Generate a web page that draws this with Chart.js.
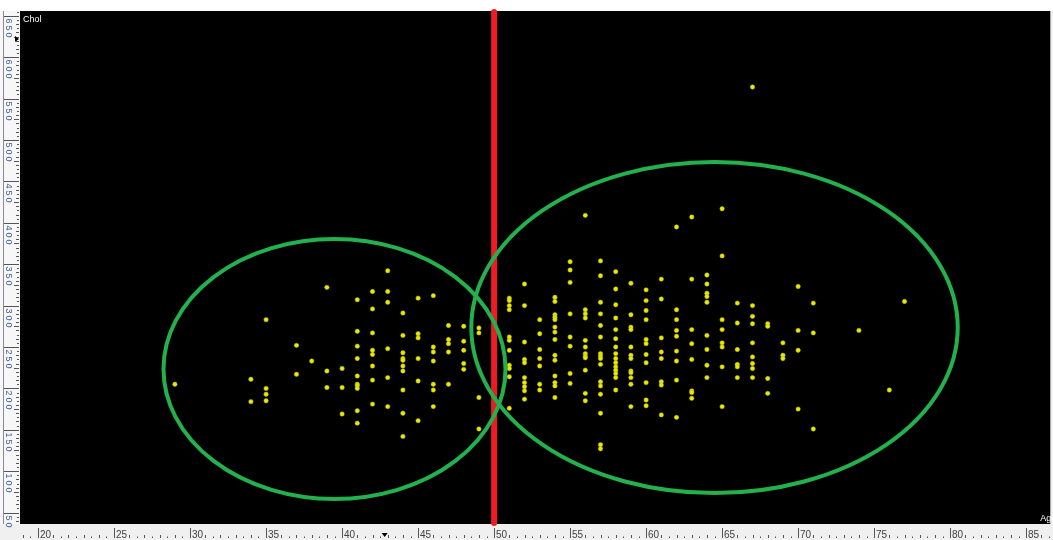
<!DOCTYPE html>
<html>
<head>
<meta charset="utf-8">
<script src="https://cdn.jsdelivr.net/npm/chart.js@4.4.0/dist/chart.umd.min.js"></script>
<style>
html, body { margin: 0; padding: 0; background: #ffffff; overflow: hidden; }
canvas { display: block; }
</style>
</head>
<body>
<canvas id="myChart" width="1053" height="540"></canvas>
<script>
// ages (one column of dots per age) and the cholesterol values in that column
const ageGroups = [29, 34, 35, 37, 38, 39, 40, 41, 42, 43, 44, 45, 46, 47, 48, 49,
    51, 52, 53, 54, 55, 56, 57, 58, 59, 60, 61, 62, 63, 64, 65, 66, 67, 68, 69, 70, 71, 74, 76, 77];

const cholByAge = [
    [205],
    [211, 184],
    [283, 200, 193, 185],
    [252, 217],
    [233],
    [322, 221, 201],
    [224, 201, 169],
    [307, 269, 251, 236, 215, 205, 203, 200, 173, 158],
    [317, 296, 267, 246, 241, 227, 210, 181],
    [342, 317, 304, 248, 213, 178],
    [291, 264, 243, 236, 234, 227, 221, 198, 170, 142],
    [309, 266, 261, 236, 209, 161],
    [312, 250, 244, 233, 205, 198, 178],
    [276, 259, 254, 244, 205],
    [275, 257, 246, 230, 223],
    [273, 267, 189, 151],
    [309, 306, 300, 295, 262, 258, 246, 228, 224, 214, 176],
    [326, 300, 256, 235, 231, 213, 207, 202, 197, 187],
    [283, 266, 247, 236, 227, 205, 198],
    [310, 305, 289, 286, 283, 274, 268, 259, 240, 234, 215, 207, 203, 189],
    [353, 343, 328, 290, 262, 251, 218, 206],
    [409, 295, 290, 285, 258, 250, 242, 239, 237, 222, 194, 185],
    [354, 336, 304, 290, 276, 262, 242, 239, 236, 229, 208, 203, 193, 170, 132, 127],
    [341, 320, 301, 285, 271, 260, 250, 242, 236, 231, 226, 222, 218, 213, 198],
    [327, 289, 274, 271, 250, 240, 236, 221, 219, 213, 205, 178],
    [319, 306, 294, 283, 259, 254, 241, 231, 207, 186, 179],
    [332, 308, 261, 244, 236, 208, 204, 168],
    [395, 295, 283, 270, 263, 245, 233, 210, 165],
    [407, 332, 271, 254, 235, 197, 195, 188],
    [337, 326, 315, 311, 304, 264, 247, 228, 213],
    [417, 360, 283, 271, 255, 250, 226, 178],
    [303, 279, 247, 229, 226, 213],
    [564, 300, 287, 278, 255, 238, 230, 224, 213],
    [278, 275, 212, 194],
    [255, 240, 236],
    [323, 270, 246, 175],
    [303, 267, 151],
    [270],
    [198],
    [305]
];

const xTickLabels = [20, 25, 30, 35, 40, 45, 50, 55, 60, 65, 70, 75, 80, 85];
const yTickLabels = [50, 100, 150, 200, 250, 300, 350, 400, 450, 500, 550, 600, 650];

// marked split age and the two hand drawn groups (centre age, centre chol, radius age, radius chol)
const splitAge = 50;
const groupCenterAge = [39.5, 64.5];
const groupCenterChol = [223.4, 273.5];
const groupRadiusAge = [11.25, 16.0];
const groupRadiusChol = [157, 200];

const cursorAge = 42.8;
const cursorChol = 622;

let points = [];
ageGroups.forEach((age, i) => {
    cholByAge[i].forEach(c => points.push({ x: age, y: c }));
});

const backgroundPlugin = {
    id: "background",
    beforeDraw(chart) {
        const ctx = chart.ctx;
        const a = chart.chartArea;
        ctx.save();
        ctx.fillStyle = "#f0f0f0";
        ctx.fillRect(0, 0, chart.width, chart.height);
        ctx.fillStyle = "#ffffff";
        ctx.fillRect(0, 0, chart.width, a.top);
        ctx.fillStyle = "#f7f7f7";
        ctx.fillRect(0, a.top, a.left, a.bottom - a.top);
        ctx.fillStyle = "#000000";
        ctx.fillRect(a.left, a.top, a.right - a.left, a.bottom - a.top);
        ctx.restore();
    }
};

const rulerPlugin = {
    id: "rulers",
    beforeDatasetsDraw(chart) {
        const ctx = chart.ctx;
        const a = chart.chartArea;
        const xs = chart.scales.x;
        const ys = chart.scales.y;
        ctx.save();
        ctx.lineWidth = 1;
        ctx.strokeStyle = "#555555";

        // bottom ruler
        const base = chart.height - 2;
        for (let v = Math.ceil(xs.min * 2) / 2; v <= xs.max; v += 0.5) {
            if (v % 5 === 0) continue;
            const major = Math.floor(v / 5) * 5;
            if (xs.getPixelForValue(v) - xs.getPixelForValue(major) < 14) continue;
            const px = Math.round(xs.getPixelForValue(v)) + 0.5;
            const len = Number.isInteger(v) ? 3 : 1.5;
            ctx.beginPath();
            ctx.moveTo(px, base - len);
            ctx.lineTo(px, base);
            ctx.stroke();
        }
        ctx.font = '10px "Liberation Sans", Arial, sans-serif';
        ctx.fillStyle = "#404040";
        ctx.textBaseline = "alphabetic";
        xTickLabels.forEach(v => {
            const px = Math.round(xs.getPixelForValue(v)) + 0.5;
            ctx.beginPath();
            ctx.moveTo(px, a.bottom + 4);
            ctx.lineTo(px, base);
            ctx.stroke();
            ctx.fillText(String(v), px + 1.5, base);
        });

        // left ruler
        ctx.strokeStyle = "#8a8a9a";
        ctx.beginPath();
        ctx.moveTo(3.5, a.top);
        ctx.lineTo(3.5, a.bottom);
        ctx.stroke();
        ctx.strokeStyle = "#555555";
        const edge = a.left - 1;
        for (let v = Math.ceil(ys.min / 5) * 5; v <= ys.max; v += 5) {
            if (v % 50 === 0) continue;
            const py = Math.round(ys.getPixelForValue(v)) + 0.5;
            const len = v % 25 === 0 ? 5 : (v % 10 === 0 ? 3 : 2);
            ctx.beginPath();
            ctx.moveTo(edge - len, py);
            ctx.lineTo(edge, py);
            ctx.stroke();
        }
        ctx.font = '9px "Liberation Sans", Arial, sans-serif';
        ctx.fillStyle = "#3d5c99";
        ctx.textBaseline = "top";
        yTickLabels.forEach(v => {
            const py = Math.round(ys.getPixelForValue(v)) + 0.5;
            ctx.beginPath();
            ctx.moveTo(4, py);
            ctx.lineTo(edge, py);
            ctx.stroke();
            String(v).split("").forEach((ch, i) => {
                ctx.save();
                ctx.translate(13, py + 2 + i * 7);
                ctx.rotate(Math.PI / 2);
                ctx.fillText(ch, 0, 0);
                ctx.restore();
            });
        });

        // cursor markers
        ctx.fillStyle = "#000000";
        const cx = xs.getPixelForValue(cursorAge);
        ctx.beginPath();
        ctx.moveTo(cx - 3, base - 5);
        ctx.lineTo(cx + 3, base - 5);
        ctx.lineTo(cx, base - 1);
        ctx.closePath();
        ctx.fill();
        const cy = ys.getPixelForValue(cursorChol);
        ctx.beginPath();
        ctx.moveTo(edge - 4, cy - 3);
        ctx.lineTo(edge - 4, cy + 3);
        ctx.lineTo(edge, cy);
        ctx.closePath();
        ctx.fill();
        ctx.restore();
    }
};

const overlayPlugin = {
    id: "overlay",
    afterDatasetsDraw(chart) {
        const ctx = chart.ctx;
        const a = chart.chartArea;
        const xs = chart.scales.x;
        const ys = chart.scales.y;
        ctx.save();

        // red split line
        const sx = xs.getPixelForValue(splitAge);
        ctx.strokeStyle = "#ed1c24";
        ctx.lineWidth = 6;
        ctx.lineCap = "round";
        ctx.beginPath();
        ctx.moveTo(sx, a.top + 1);
        ctx.lineTo(sx, a.bottom - 1);
        ctx.stroke();

        // green group ellipses
        ctx.strokeStyle = "#22b14c";
        ctx.lineWidth = 4;
        groupCenterAge.forEach((age, i) => {
            const px = xs.getPixelForValue(age);
            const py = ys.getPixelForValue(groupCenterChol[i]);
            const rx = Math.abs(xs.getPixelForValue(age + groupRadiusAge[i]) - px);
            const ry = Math.abs(ys.getPixelForValue(groupCenterChol[i] + groupRadiusChol[i]) - py);
            ctx.beginPath();
            ctx.ellipse(px, py, rx, ry, 0, 0, Math.PI * 2);
            ctx.stroke();
        });

        // axis names
        ctx.fillStyle = "#ffffff";
        ctx.font = '9px "Liberation Sans", Arial, sans-serif';
        ctx.textBaseline = "top";
        ctx.fillText("Chol", a.left + 3, a.top + 4);
        ctx.textBaseline = "alphabetic";
        ctx.fillText("Age", a.right - 10, a.bottom - 3);
        ctx.restore();
    }
};

const ctx = document.getElementById("myChart").getContext("2d");
const myChart = new Chart(ctx, {
    type: "scatter",
    data: {
        datasets: [
            {
                data: points,
                backgroundColor: "#eaea00",
                borderColor: "#b8b800",
                borderWidth: 0.5,
                pointRadius: 2.2,
                pointHoverRadius: 2.2,
            },
        ],
    },
    options: {
        responsive: false,
        animation: false,
        devicePixelRatio: 1,
        layout: { padding: { left: 20, top: 11, right: 0, bottom: 16 } },
        scales: {
            x: { type: "linear", min: 18.81, max: 86.59, display: false },
            y: { type: "linear", min: 36.2, max: 655.8, display: false },
        },
        plugins: {
            legend: { display: false },
            tooltip: { enabled: false },
        },
    },
    plugins: [backgroundPlugin, rulerPlugin, overlayPlugin],
});
</script>
</body>
</html>
